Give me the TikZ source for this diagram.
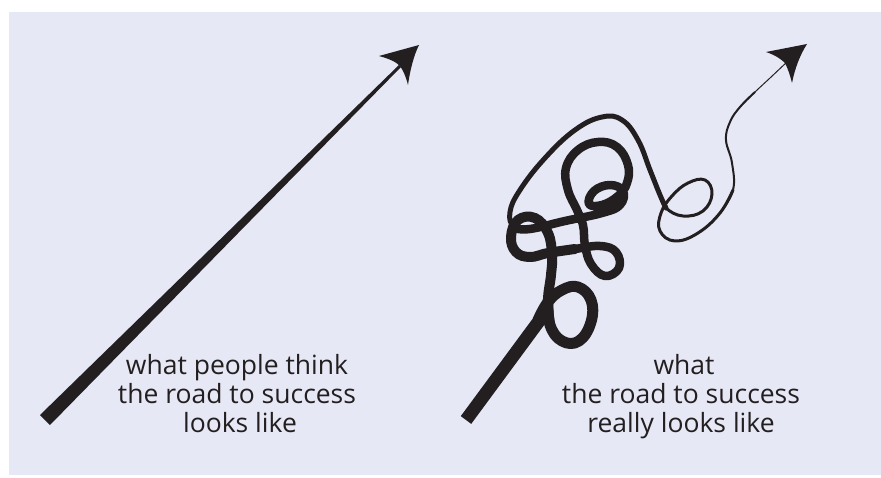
\documentclass[tikz,border=0pt]{standalone}
\usepackage{fontspec}
\setmainfont{Open Sans}
\definecolor{bg}{RGB}{230,232,245}
\definecolor{ink}{HTML}{231F20}
\begin{document}
\begin{tikzpicture}[x=1pt,y=-1pt,
  squig/.style={draw=ink, line cap=round, line join=round},
  lbl/.style={text=ink, font=\fontsize{26.5}{29}\selectfont, anchor=base, inner sep=0pt}]
\useasboundingbox (0,0) rectangle (881,478);
\fill[white] (0,0) rectangle (881,478);
\fill[bg] (9,12) rectangle (881,475);

% left: straight road
\fill[ink] (40,415) -- (50,425) -- (401,67) -- (399,65) -- cycle;
\fill[ink] (419,45) -- (379,56) .. controls (390,59) and (396,62) .. (400,66)
  .. controls (403,70) and (406,77) .. (408,85) .. controls (410,70) and (414,55) .. (419,45) -- cycle;

% right: real road
\draw[ink, line width=13, line cap=butt] (466,420) -- (542,317);
\draw[squig, line width=11] plot[smooth, tension=0.7] coordinates {(538,320) (548,302) (562,290) (578,287) (591,300) (591,322) (579,341) (562,341) (550,325) (548,300)};
\draw[squig, line width=10] plot[smooth, tension=0.7] coordinates {(550,325) (548,300) (551,275) (552,255) (548,233) (535,218) (518,220) (511,237) (516,252) (530,257) (548,253) (575,249)};
\draw[squig, line width=8.5] plot[smooth, tension=0.7] coordinates {(548,253) (575,249) (600,246) (616,252) (619,268) (605,276) (591,264) (585,245) (583,225) (577,210) (568,190) (566,168) (578,150) (598,142) (617,147) (628,165) (627,183) (618,196) (602,205) (589,204) (594,191) (610,185) (623,191) (620,205) (602,213) (565,221) (530,229) (514,228)};
\draw[squig, line width=5] plot[smooth, tension=0.7] coordinates {(530,229) (514,227) (510,212) (520,190) (545,158) (575,130) (602,117) (622,120) (638,140) (650,170) (660,195) (666,208)};
\draw[squig, line width=3] plot[smooth, tension=0.7] coordinates {(650,170) (660,195) (666,208) (683,216) (703,211) (712,194) (705,180) (688,183) (672,196) (661,213) (660,231) (675,241) (698,233) (720,213) (733,190)};
\draw[squig, line width=2] plot[smooth, tension=0.7] coordinates {(720,213) (733,190) (732,163) (726,140) (730,122) (740,107) (755,92)};
\draw[squig, line width=1] plot[smooth, tension=0.7] coordinates {(740,107) (755,92) (770,78) (788,61)};
\fill[ink] (807,44) -- (766,52) .. controls (775,55) and (781,59) .. (785,63)
  .. controls (788,69) and (790,75) .. (792,83) .. controls (795,68) and (800,55) .. (807,44) -- cycle;

% labels
\node[lbl] (l1) at (237,374) {what people think};
\node[lbl] (l2) at (237,403) {the road to success};
\node[lbl] (l3) at (240,432) {looks like};
\node[lbl] (r1) at (684,374) {what};
\node[lbl] (r2) at (681,403) {the road to success};
\node[lbl] (r3) at (681,432) {really looks like};
\end{tikzpicture}
\end{document}
